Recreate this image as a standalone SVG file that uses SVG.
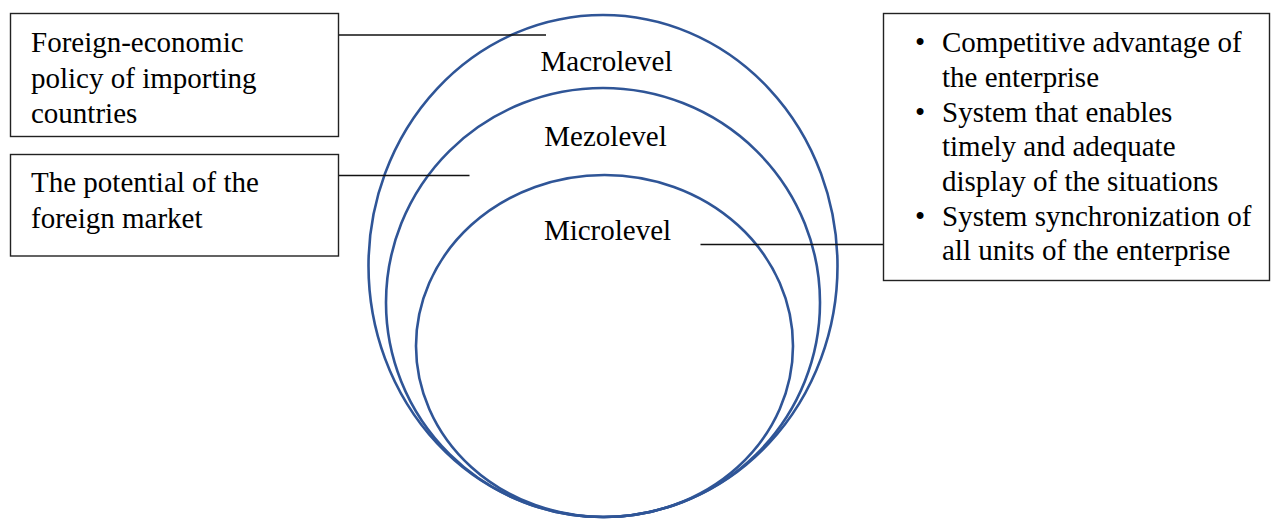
<svg xmlns="http://www.w3.org/2000/svg" width="1276" height="519" viewBox="0 0 1276 519">
<style>
.bg{fill:#ffffff}
.box{fill:#ffffff;stroke:#222222;stroke-width:1.4}
.ring{fill:none;stroke:#2F5597;stroke-width:2.6}
.conn{fill:none;stroke:#111111;stroke-width:1.4}
.t{font-family:"Liberation Serif","Times New Roman",Tinos,serif;font-size:29px;fill:#000000}
.c{text-anchor:middle}
</style>
<rect class="bg" x="0" y="0" width="1276" height="519"/>
<g id="rings">
  <g id="macrolevel">
    <ellipse class="ring" cx="603" cy="266" rx="234.5" ry="251"/>
    <text class="t c" x="606.5" y="70.5">Macrolevel</text>
  </g>
  <g id="mezolevel">
    <ellipse class="ring" cx="603" cy="302.5" rx="217" ry="214.5"/>
    <text class="t c" x="605.5" y="146">Mezolevel</text>
  </g>
  <g id="microlevel">
    <ellipse class="ring" cx="604.5" cy="346" rx="188.5" ry="171"/>
    <text class="t c" x="607.5" y="240">Microlevel</text>
  </g>
</g>
<g id="connectors">
  <line class="conn" x1="338.5" y1="35" x2="546" y2="35"/>
  <line class="conn" x1="338.5" y1="175.5" x2="469.5" y2="175.5"/>
  <line class="conn" x1="700.5" y1="244.5" x2="883.5" y2="244.5"/>
</g>
<g id="policy">
  <rect class="box" x="10.5" y="13.5" width="328" height="123"/>
  <text class="t" x="31" y="52">Foreign-economic</text>
  <text class="t" x="31" y="87.5">policy of importing</text>
  <text class="t" x="31" y="123">countries</text>
</g>
<g id="potential">
  <rect class="box" x="10.5" y="154.5" width="328" height="101.5"/>
  <text class="t" x="31" y="192">The potential of the</text>
  <text class="t" x="31" y="227.5">foreign market</text>
</g>
<g id="enterprise">
  <rect class="box" x="883.5" y="13.5" width="386" height="267"/>
  <text class="t" x="915" y="52">•</text>
  <text class="t" x="942" y="52">Competitive advantage of</text>
  <text class="t" x="942" y="86.5">the enterprise</text>
  <text class="t" x="915" y="121.5">•</text>
  <text class="t" x="942" y="121.5">System that enables</text>
  <text class="t" x="942" y="156">timely and adequate</text>
  <text class="t" x="942" y="190.5">display of the situations</text>
  <text class="t" x="915" y="225.5">•</text>
  <text class="t" x="942" y="225.5">System synchronization of</text>
  <text class="t" x="942" y="260">all units of the enterprise</text>
</g>
</svg>
